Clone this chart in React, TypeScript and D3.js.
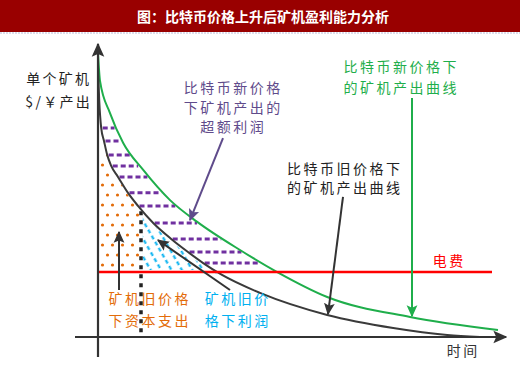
import * as React from "react";
import { area, curveMonotoneX, line, range, scaleLinear } from "d3";

// 单个矿机产出 vs 时间, both on a 0-100 scale
const oldCurveT = [0, 0.3, 0.8, 1.5, 2.3, 3.3, 5, 7.5, 10, 13.8, 18.3, 22.5, 26.3, 31, 40.5, 57.3, 73.8, 87.3, 95.5];
const oldCurveV = [92.8, 81.7, 72.1, 67.6, 62.8, 59, 55.2, 49.7, 45.2, 39.3, 33.8, 29.3, 25.5, 21.4, 15.2, 7.6, 3.1, 0.7, 0];
const newCurveT = [0, 0.5, 3, 6.3, 11.3, 18, 24.8, 35.5, 44.8, 57.3, 78, 100];
const newCurveV = [97.9, 88.3, 77.2, 66.9, 57.6, 47.2, 39.7, 30, 22.4, 13.8, 6.9, 2.4];
const powerCost = 22.4; // 电费
const powerCostEnd = 98.5;
const capexEnd = 10.75; // dotted divider
const excessRows = [72.1, 67.6, 62.8, 59.0, 55.2, 49.7, 45.2, 39.3, 33.8, 29.3, 25.5];

const title = "图：比特币价格上升后矿机盈利能力分析";
const yAxisLabel = ["单个矿机", "$/￥产出"];
const xAxisLabel = "时间";

const C = {
  banner: "#990000",
  axis: "#333333",
  old: "#3a3a3a",
  fresh: "#1fae4b",
  power: "#ff0000",
  excess: "#7030a0",
  excessText: "#5f4b8b",
  capex: "#e36c09",
  profit: "#00b0f0",
};

const notes = [
  { text: ["比特币新价格", "下矿机产出的", "超额利润"], t: 33.5, v: 86.2, lh: 19.5, color: C.excessText },
  { text: ["比特币新价格下", "的矿机产出曲线"], t: 75.5, v: 93.4, lh: 21, color: C.fresh },
  { text: ["比特币旧价格下", "的矿机产出曲线"], t: 61.4, v: 58.3, lh: 19, color: "#222" },
  { text: ["矿机旧价格", "下资本支出"], t: 12.6, v: 13.4, lh: 22, color: C.capex },
  { text: ["矿机旧价", "格下利润"], t: 34.6, v: 13.4, lh: 22, color: C.profit },
  { text: ["电费"], t: 87.5, v: 26.6, lh: 20, color: C.power },
];

const arrows = [
  { from: [31.25, 68.6], to: [23, 40.3], marker: "ah-purple", color: "#5f4b8b" },
  { from: [61.25, 48.3], to: [57.5, 7.9], marker: "ah-dark", color: "#333" },
  { from: [78.5, 82.4], to: [78.5, 7.2], marker: "ah-green", color: C.fresh },
  { from: [5.25, 16.2], to: [5.25, 36.2], marker: "ah-dark", color: "#333" },
  { from: [33, 16.2], to: [15, 33.4], marker: "ah-dark", color: "#333" },
];

const W = 520;
const H = 366;
const FONT = "'Noto Sans CJK SC', 'Noto Sans', sans-serif";

export default function App() {
  const x = scaleLinear().domain([0, 100]).range([98, 498]);
  const y = scaleLinear().domain([0, 100]).range([337, 47]);

  const oldAt = scaleLinear().domain(oldCurveT).range(oldCurveV).clamp(true);
  const oldInv = scaleLinear().domain(oldCurveV).range(oldCurveT).clamp(true);
  const newInv = scaleLinear().domain(newCurveV).range(newCurveT).clamp(true);

  const curve = line<[number, number]>()
    .x((d) => x(d[0]))
    .y((d) => y(d[1]))
    .curve(curveMonotoneX);

  const oldPts = oldCurveT.map((t, i) => [t, oldCurveV[i]] as [number, number]);
  const newPts = newCurveT.map((t, i) => [t, newCurveV[i]] as [number, number]);

  // clip regions for the hatched areas
  const capexTs = range(0.15, capexEnd + 0.01, 0.25);
  const capexArea = area<number>()
    .x((t) => x(t))
    .y0(y(powerCost) - 1.5)
    .y1((t) => Math.max(y(oldAt(t)) + 2, 152))(capexTs);

  const tRed = oldInv(powerCost);
  const profitTs = range(capexEnd + 0.45, tRed, 0.25).concat([tRed]);
  const profitArea = area<number>()
    .x((t) => x(t))
    .y0(y(powerCost) - 2)
    .y1((t) => y(oldAt(t)) + 2.5)(profitTs);

  const text = (lines: string[], cx: number, cy: number, lh: number, color: string, size = 14, ls = 2.5, weight = 400) =>
    lines.map((s, i) => (
      <text
        key={s + i}
        x={cx + ls / 2}
        y={cy + i * lh}
        fill={color}
        fontSize={size}
        fontWeight={weight}
        letterSpacing={ls}
        textAnchor="middle"
        dominantBaseline="central"
        fontFamily={FONT}
      >
        {s}
      </text>
    ));

  const marker = (id: string, color: string, size: number) => (
    <marker
      id={id}
      viewBox="0 0 10 10"
      refX={9}
      refY={5}
      markerWidth={size}
      markerHeight={size}
      markerUnits="userSpaceOnUse"
      orient="auto"
    >
      <path d="M0,0.5 L10,5 L0,9.5 L2,5 z" fill={color} />
    </marker>
  );

  return (
    <svg
      width={W}
      height={H}
      style={{ position: "absolute", left: 0, top: 0, display: "block", background: "#fff" }}
    >
      <defs>
        {marker("ah-dark", "#333", 12)}
        {marker("ah-green", C.fresh, 12)}
        {marker("ah-purple", "#5f4b8b", 12)}
        {marker("ah-axis", C.axis, 14)}
        <pattern id="dots" width={10} height={20} patternUnits="userSpaceOnUse">
          <circle cx={2.5} cy={5} r={1.6} fill={C.capex} />
          <circle cx={7.5} cy={15} r={1.6} fill={C.capex} />
        </pattern>
        <pattern id="hatch" width={9} height={42} patternUnits="userSpaceOnUse" patternTransform="rotate(-30)">
          <line x1={4.5} y1={0} x2={4.5} y2={42} stroke={C.profit} strokeWidth={2} strokeDasharray="4 3" />
        </pattern>
        <clipPath id="capex-clip">
          <path d={capexArea ?? ""} />
        </clipPath>
        <clipPath id="profit-clip">
          <path d={profitArea ?? ""} />
        </clipPath>
      </defs>

      {/* title banner */}
      <rect x={0} y={0} width={W} height={32} fill={C.banner} />
      <line x1={0} x2={W} y1={33} y2={33} stroke="#b8bcd8" strokeWidth={1} strokeDasharray="2 1" />
      <text
        x={263}
        y={16}
        fill="#fff"
        fontSize={14}
        fontWeight={700}
        textAnchor="middle"
        dominantBaseline="central"
        fontFamily={FONT}
      >
        {title}
      </text>

      {/* hatched areas */}
      <rect x={x(0)} y={140} width={x(capexEnd) - x(0)} height={140} fill="url(#dots)" clipPath="url(#capex-clip)" />
      <rect x={x(capexEnd)} y={190} width={x(tRed) - x(capexEnd) + 5} height={90} fill="url(#hatch)" clipPath="url(#profit-clip)" />

      {excessRows.map((v) => (
        <line
          key={v}
          x1={x(oldInv(v)) + 1.5}
          x2={x(newInv(v)) - 2}
          y1={y(v)}
          y2={y(v)}
          stroke={C.excess}
          strokeWidth={3}
          strokeDasharray="5 3"
        />
      ))}

      {/* divider between capex and profit */}
      <line
        x1={x(capexEnd)}
        x2={x(capexEnd)}
        y1={y(oldAt(capexEnd)) + 2}
        y2={y(0)}
        stroke="#222"
        strokeWidth={3.5}
        strokeDasharray="4 5"
      />

      {/* curves */}
      <path d={curve(newPts) ?? ""} fill="none" stroke={C.fresh} strokeWidth={2} />
      <path d={curve(oldPts) ?? ""} fill="none" stroke={C.old} strokeWidth={2} />

      {/* 电费 */}
      <line x1={x(0)} x2={x(powerCostEnd)} y1={y(powerCost)} y2={y(powerCost)} stroke={C.power} strokeWidth={2.5} />

      {/* axes */}
      <line x1={x(-5.75)} x2={x(102)} y1={y(0)} y2={y(0)} stroke={C.axis} strokeWidth={2.2} markerEnd="url(#ah-axis)" />
      <line x1={x(0)} x2={x(0)} y1={y(-6.9)} y2={y(101)} stroke={C.axis} strokeWidth={2.2} markerEnd="url(#ah-axis)" />

      {/* annotation arrows */}
      {arrows.map((a, i) => (
        <line
          key={i}
          x1={x(a.from[0])}
          y1={y(a.from[1])}
          x2={x(a.to[0])}
          y2={y(a.to[1])}
          stroke={a.color}
          strokeWidth={2}
          markerEnd={`url(#${a.marker})`}
        />
      ))}

      {/* labels */}
      {notes.map((n, i) => (
        <g key={i}>{text(n.text, x(n.t), y(n.v), n.lh, n.color)}</g>
      ))}
      {text(yAxisLabel, x(-10.1), y(89.3), 23, "#222", 14, 2.3)}
      {text([xAxisLabel], x(91), y(-4.5), 20, "#333", 14, 2.5)}
    </svg>
  );
}
